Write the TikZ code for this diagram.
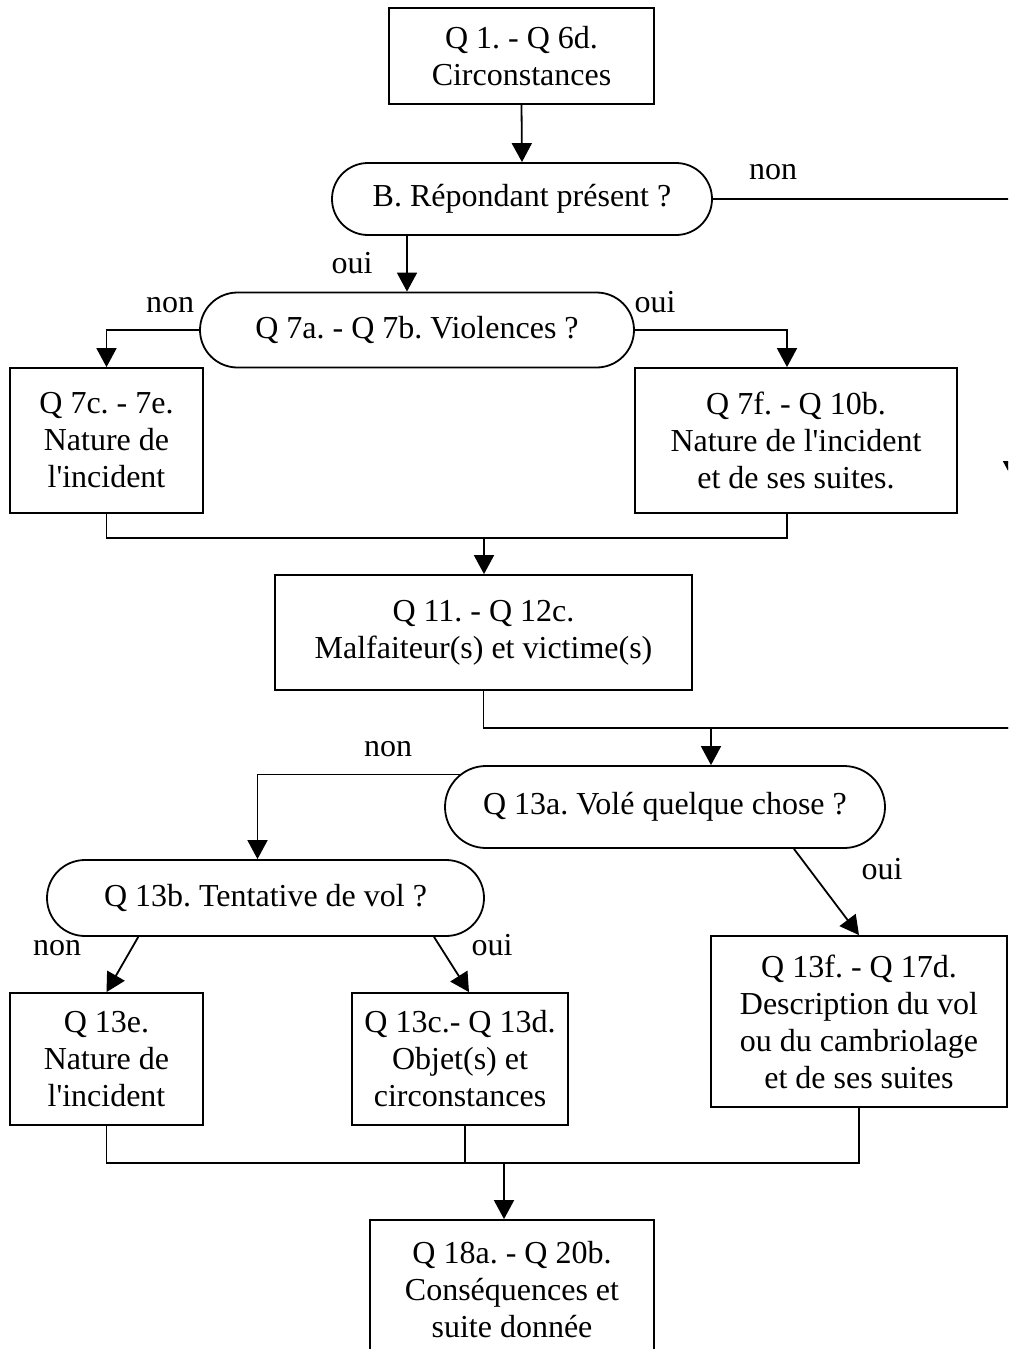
\documentclass[tikz,border=0pt]{standalone}
\usepackage{fontspec}
\setmainfont{Liberation Serif}
\usetikzlibrary{arrows.meta,shapes.misc,calc}
\frenchspacing

\begin{document}
\begin{tikzpicture}[
  x=0.5pt, y=-0.5pt,
  font=\fontsize{16}{18.5}\selectfont, >={Triangle[length=9.5pt,width=10pt]},
  line width=0.9pt,
  sz/.style 2 args={minimum width=#1*0.5pt, minimum height=#2*0.5pt},
  box/.style={draw, rectangle, align=center, inner sep=0pt},
  oval/.style={draw, rounded rectangle, align=center, inner sep=0pt},
  lbl/.style={anchor=base, inner sep=0pt},
]

% Page frame (right side is cut off)
\path[use as bounding box] (0,0) rectangle (1008,1349);
\clip (0,0) rectangle (1008,1349);

% Questions and blocks
\node[box,  sz={265}{96}]  (circ) at (521.5,56)    {Q 1. - Q 6d.\\Circonstances};
\node[oval, sz={380}{72}]  (pres) at (522,199)     {B. Répondant présent ?};
\node[oval, sz={434}{75}]  (viol) at (417,330)     {Q 7a. - Q 7b. Violences ?};
\node[box,  sz={193}{145}] (natA) at (106.5,440.5) {Q 7c. - 7e.\\Nature de\\l\textquotesingle incident};
\node[box,  sz={322}{145}] (natB) at (796,440.5)   {Q 7f. - Q 10b.\\Nature de l\textquotesingle incident\\et de ses suites.};
\node[box,  sz={417}{115}] (malf) at (483.5,632.5) {Q 11. - Q 12c.\\Malfaiteur(s) et victime(s)};
\node[oval, sz={440}{82}]  (vole) at (665,807)     {Q 13a. Volé quelque chose ?};
\node[oval, sz={437}{76}]  (tent) at (265.5,898)   {Q 13b. Tentative de vol ?};
\node[box,  sz={193}{132}] (natC) at (106.5,1059)  {Q 13e.\\Nature de\\l\textquotesingle incident};
\node[box,  sz={216}{132}] (objt) at (460,1059)    {Q 13c.- Q 13d.\\Objet(s) et\\circonstances};
\node[box,  sz={296}{171}] (desc) at (859,1021.5)  {Q 13f. - Q 17d.\\Description du vol\\ou du cambriolage\\et de ses suites};
\node[box,  sz={284}{140}] (cons) at (512,1290)    {Q 18a. - Q 20b.\\Conséquences et\\suite donnée};

% Helper points
\coordinate (a1) at (407,0);
\coordinate (rt) at (1013,199);
\coordinate (rm) at (1013,480);
\coordinate (rb) at (1013,728);
\coordinate (j1) at (484,538);
\coordinate (j2) at (711,728);
\coordinate (j3) at (504,1163);

% Top part
\draw[->] (circ.south) -- (pres.north);
\draw[->] (pres.south -| a1) -- (viol.north -| a1);
\draw[->] (viol.west) -| (natA.north);
\draw[->] (viol.east) -| ($(natB.north)+(-9,0)$);

% Bypass when respondent absent
\draw (pres.east) -- (rt);
\draw[->] (rt) -- (rm);
\draw (rm) -- (rb) -- (j2);

% Merge after violence branch
\draw (natA.south) |- (j1) -| ($(natB.south)+(-9,0)$);
\draw[->] (j1) -- (j1 |- malf.north);
\draw (malf.south) |- (rb);
\draw[->] (j2) -- (j2 |- vole.north);

% Theft branch
\draw[->] (vole.171) -| ($(tent.north)+(-8,0)$);
\draw[->] (vole.-18) -- (desc.north);
\draw[->] (tent.197) -- (natC.north);
\draw[->] (tent.-13) -- ($(objt.north)+(9,0)$);

% Final merge
\draw (natC.south) |- (j3) -| (desc.south);
\draw ($(objt.south)+(5,0)$) -- ($(objt.south |- j3)+(5,0)$);
\draw[->] (j3) -- (j3 |- cons.north);

% Branch labels
\node[lbl] (lb1) at (773,179) {non};
\node[lbl] (lb2) at (352,273) {oui};
\node[lbl] (lb3) at (170,312) {non};
\node[lbl] (lb4) at (655,312) {oui};
\node[lbl] (lb5) at (388,756) {non};
\node[lbl] (lb6) at (882,879) {oui};
\node[lbl] (lb7) at (57,955)  {non};
\node[lbl] (lb8) at (492,955) {oui};

\end{tikzpicture}
\end{document}
